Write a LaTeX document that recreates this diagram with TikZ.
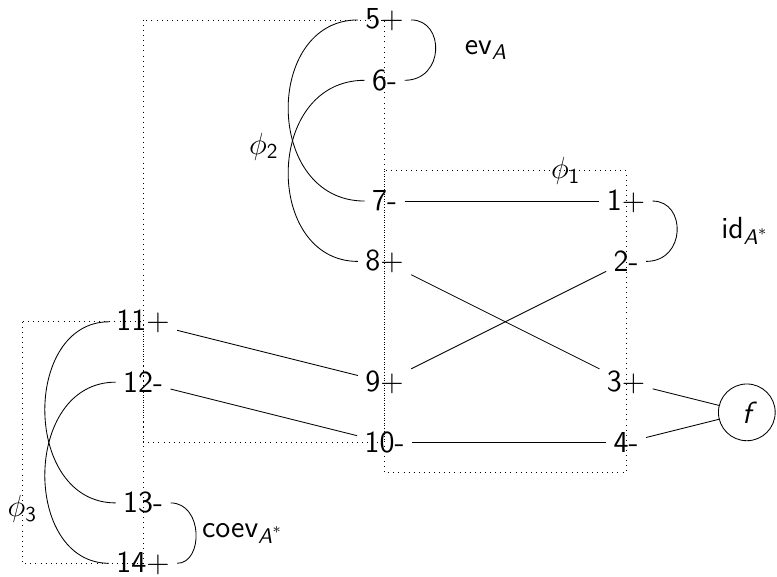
\documentclass[tikz,border=0pt]{standalone}
\usepackage{amsmath}
\usetikzlibrary{calc}
\tikzset{
  port/.style={font=\sffamily\Large},
  lbl/.style={font=\sffamily\Large},
  wire/.style={draw=black, line width=0.4pt},
  frame/.style={draw=black, dotted},
  morph/.style={circle, draw, minimum size=0.94cm, inner sep=0pt, font=\sffamily\Large\itshape}
}
\begin{document}
\begin{tikzpicture}
\useasboundingbox (-2.37,-9.22) rectangle (10.50,0.33);

% dotted frames of the three pieces
\draw[frame] (0,0) rectangle (4,-7);
\draw[frame] (4,-2.5) rectangle (8,-7.5);
\draw[frame] (-2,-5) rectangle (0,-9);

% ports
\node[port] (n5)  at (4,0)  {5$+$};
\node[port] (n6)  at (4,-1) {6-};
\node[port] (n7)  at (4,-3) {7-};
\node[port] (n8)  at (4,-4) {8$+$};
\node[port] (n9)  at (4,-6) {9$+$};
\node[port] (n10) at (4,-7) {10-};
\node[port] (n1)  at (8,-3) {1$+$};
\node[port] (n2)  at (8,-4) {2-};
\node[port] (n3)  at (8,-6) {3$+$};
\node[port] (n4)  at (8,-7) {4-};
\node[port] (n11) at (0,-5) {11$+$};
\node[port] (n12) at (0,-6) {12-};
\node[port] (n13) at (0,-8) {13-};
\node[port] (n14) at (0,-9) {14$+$};
\node[morph] (f) at (10,-6.5) {f};

% labels
\node[lbl] (phi1) at (7,-2.5)  {$\phi_{\textsf{1}}$};
\node[lbl] (phi2) at (2,-2.1)  {$\phi_{\textsf{2}}$};
\node[lbl] (phi3) at (-2,-8.1) {$\phi_{\textsf{3}}$};
\node[lbl] (ev)   at (5.68,-0.5) {ev$_{\textit{A}}$};
\node[lbl] (id)   at (9.97,-3.5) {id$_{\textit{A}^*}$};
\node[lbl] (coev) at (1.65,-8.5) {coev$_{\textit{A}^*}$};

% straight wires
\draw[wire] (n7) -- (n1);
\draw[wire] (n8) -- (n3);
\draw[wire] (n9) -- (n2);
\draw[wire] (n10) -- (n4);
\draw[wire] (n11) -- (n9);
\draw[wire] (n12) -- (n10);
\draw[wire] (n3) -- (f);
\draw[wire] (n4) -- (f);

% crossing loops
\draw[wire] (n5.west) .. controls ($(n5)+(-2,0)$) and ($(n7)+(-2,0)$) .. (n7.west);
\draw[wire] (n6.west) .. controls ($(n6)+(-2,0)$) and ($(n8)+(-2,0)$) .. (n8.west);
\draw[wire] (n11.west) .. controls ($(n11)+(-2,0)$) and ($(n13)+(-2,0)$) .. (n13.west);
\draw[wire] (n12.west) .. controls ($(n12)+(-2,0)$) and ($(n14)+(-2,0)$) .. (n14.west);

% caps and cups
\draw[wire] (n5.east) .. controls ($(n5)+(1,0)$) and ($(n6)+(1,0)$) .. (n6.east);
\draw[wire] (n1.east) .. controls ($(n1)+(1,0)$) and ($(n2)+(1,0)$) .. (n2.east);
\draw[wire] (n13.east) .. controls ($(n13)+(1,0)$) and ($(n14)+(1,0)$) .. (n14.east);
\end{tikzpicture}
\end{document}
